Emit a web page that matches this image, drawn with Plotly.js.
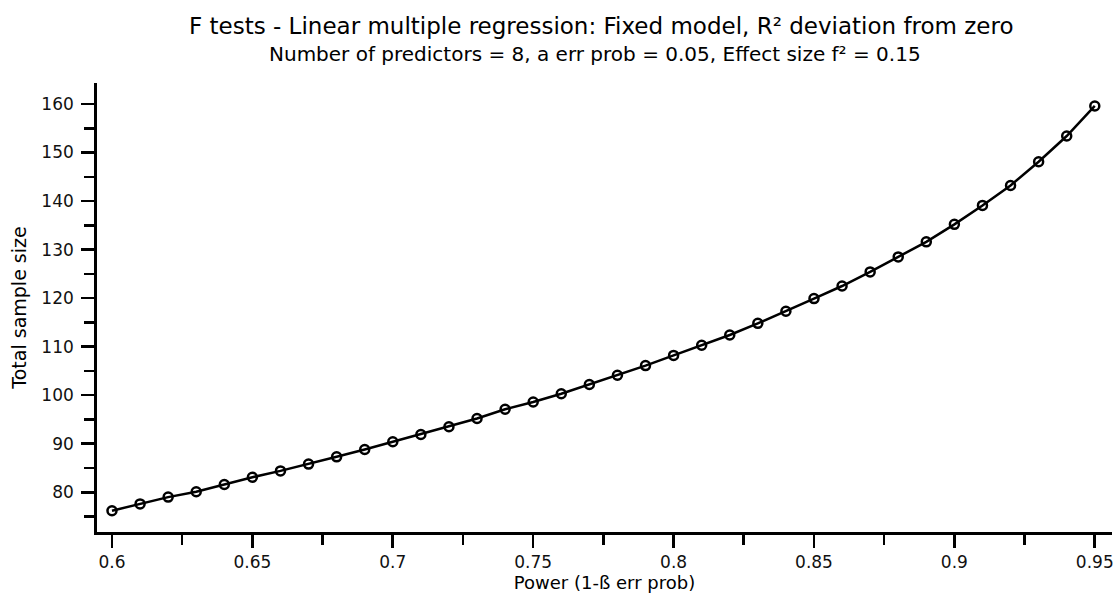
<!DOCTYPE html>
<html>
<head>
<meta charset="utf-8">
<script src="https://cdn.plot.ly/plotly-3.0.1.min.js"></script>
<style>html,body{margin:0;padding:0;background:#fff;}#chart{width:1115px;height:596px;}</style>
</head>
<body>
<div id="chart"></div>
<script>
const power = [0.60, 0.61, 0.62, 0.63, 0.64, 0.65, 0.66, 0.67, 0.68, 0.69,
               0.70, 0.71, 0.72, 0.73, 0.74, 0.75, 0.76, 0.77, 0.78, 0.79,
               0.80, 0.81, 0.82, 0.83, 0.84, 0.85, 0.86, 0.87, 0.88, 0.89,
               0.90, 0.91, 0.92, 0.93, 0.94, 0.95];
const sampleSize = [76.2, 77.6, 79.0, 80.1, 81.6, 83.1, 84.4, 85.8, 87.3, 88.8,
                    90.4, 91.9, 93.5, 95.2, 97.1, 98.6, 100.3, 102.2, 104.1, 106.1,
                    108.2, 110.3, 112.4, 114.8, 117.3, 119.9, 122.5, 125.4, 128.5, 131.6,
                    135.2, 139.1, 143.2, 148.1, 153.4, 159.6];
const xTicks = [0.6, 0.65, 0.7, 0.75, 0.8, 0.85, 0.9, 0.95];
const xTickText = ["0.6", "0.65", "0.7", "0.75", "0.8", "0.85", "0.9", "0.95"];
const yTicks = [80, 90, 100, 110, 120, 130, 140, 150, 160];

const titleText = "F tests - Linear multiple regression: Fixed model, R² deviation from zero";
const subtitleText = "Number of predictors = 8, a err prob = 0.05, Effect size f² = 0.15";

const font = "DejaVu Sans, sans-serif";

const trace = {
  x: power, y: sampleSize, type: "scatter", mode: "lines+markers",
  line: {color: "#000", width: 2.5},
  marker: {symbol: "circle-open", size: 9, color: "#000", line: {width: 2.5, color: "#000"}},
  hoverinfo: "x+y"
};

const layout = {
  width: 1115, height: 596,
  margin: {l: 97, r: 3, t: 83, b: 64},
  paper_bgcolor: "#fff", plot_bgcolor: "#fff",
  showlegend: false,
  font: {family: font, color: "#000", size: 17},
  xaxis: {
    range: [0.59466, 0.95613],
    showgrid: false, zeroline: false,
    showline: true, linecolor: "#000", linewidth: 2.8,
    ticks: "outside", ticklen: 13, tickwidth: 2.6, tickcolor: "#000",
    tickmode: "array", tickvals: xTicks, ticktext: xTickText,
    tickfont: {family: font, size: 17, color: "#111"},
    minor: {tickmode: "linear", tick0: 0.625, dtick: 0.05, ticks: "outside", ticklen: 10, tickwidth: 2.6, tickcolor: "#000", showgrid: false},
    title: {text: "Power (1-ß err prob)", font: {family: font, size: 18, color: "#000"}, standoff: 6}
  },
  yaxis: {
    range: [71.81, 164.33],
    showgrid: false, zeroline: false,
    showline: true, linecolor: "#000", linewidth: 2.8,
    ticks: "outside", ticklen: 13, tickwidth: 2.6, tickcolor: "#000",
    tickmode: "array", tickvals: yTicks, ticklabelstandoff: 4,
    tickfont: {family: font, size: 17, color: "#111"},
    minor: {tickmode: "linear", tick0: 75, dtick: 10, ticks: "outside", ticklen: 10, tickwidth: 2.6, tickcolor: "#000", showgrid: false},
    title: {text: "Total sample size", font: {family: font, size: 19, color: "#000"}, standoff: 10}
  },
  annotations: [
    {text: titleText, xref: "paper", yref: "paper", x: 0.4966, y: 1, xanchor: "center", yanchor: "bottom",
     showarrow: false, font: {family: font, size: 23, color: "#000"}, yshift: 42},
    {text: subtitleText, xref: "paper", yref: "paper", x: 0.4906, y: 1, xanchor: "center", yanchor: "bottom",
     showarrow: false, font: {family: font, size: 20, color: "#000"}, yshift: 15}
  ]
};

Plotly.newPlot("chart", [trace], layout, {displayModeBar: false, staticPlot: true});
</script>
</body>
</html>
